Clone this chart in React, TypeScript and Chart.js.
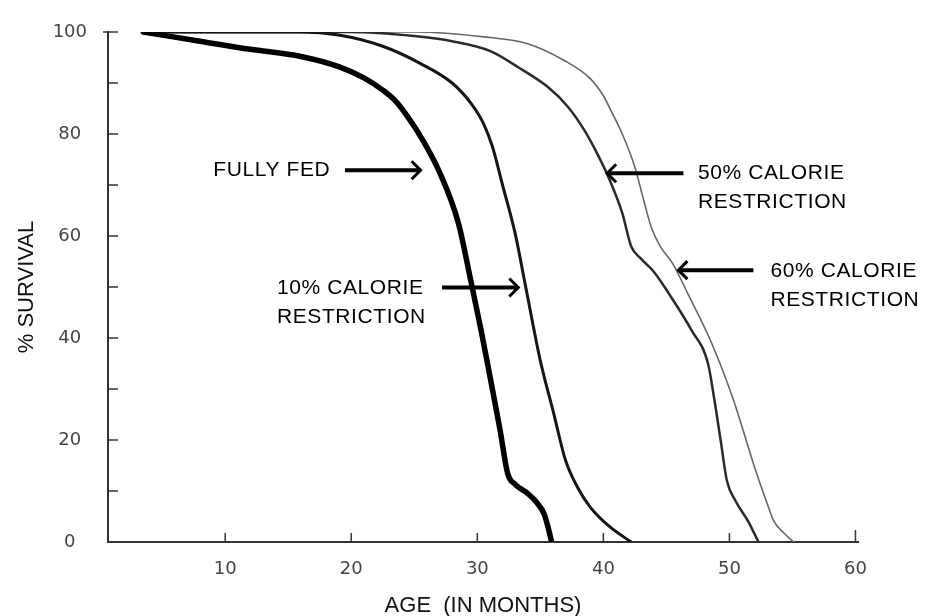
import React, { useEffect, useRef } from "react";
import { Chart, registerables } from "chart.js";

Chart.register(...registerables);

// ---- data (age in months, % survival) ----
const fullyFedAge = [3.5, 8, 12, 16, 19, 21, 22.5, 23.5, 24.3, 25.5, 27, 28.5, 29.5, 30.3, 31, 31.8, 32.4, 33.0, 34.0, 34.7, 35.3, 35.6, 35.9];
const fullyFedSurv = [100, 98.2, 96.6, 95.2, 93.2, 91, 88.6, 86.5, 84, 79.5, 72.5, 62.5, 51, 41.5, 32.5, 22, 13.5, 11.3, 9.5, 7.8, 5.5, 3, 0];

const cr10Age = [3.5, 16, 19, 22.5, 25.5, 28, 29.5, 30.5, 31.2, 32, 33, 33.8, 35, 36, 37, 38, 39, 40.5, 42.2];
const cr10Surv = [100, 100, 99.4, 97.2, 93.8, 90, 86, 82, 77.5, 70, 60.5, 50.5, 35.5, 25.8, 16, 10.5, 6.7, 3, 0];

const cr50Age = [3.5, 20, 25, 28, 31, 33.3, 35.6, 37.2, 38.5, 39.5, 40.5, 41.5, 42.2, 43, 44, 45.2, 47, 48.3, 48.8, 49.3, 49.8, 50.5, 51.5, 52.3];
const cr50Surv = [100, 100, 99.2, 98.2, 96.3, 93, 89.2, 85.3, 80.7, 76.2, 71, 64.5, 58, 55.5, 53, 48.7, 41.5, 35, 28, 20, 12, 8, 4, 0];

const cr60Age = [3.5, 25, 30.7, 34, 36.9, 38.9, 40, 40.6, 41.5, 42.5, 43.2, 43.8, 44.5, 45.5, 46.7, 48.5, 50.3, 51.2, 52, 53, 53.5, 54.3, 55.1];
const cr60Surv = [100, 100, 99, 97.7, 94.4, 91, 87.5, 84.6, 80, 73.5, 67, 61.7, 58, 54.6, 48.7, 39.5, 28, 21, 14.6, 7.5, 4.2, 1.8, 0];

const xTickValues = [10, 20, 30, 40, 50, 60];
const yTickValues = [0, 10, 20, 30, 40, 50, 60, 70, 80, 90, 100];
const yLabelValues = [0, 20, 40, 60, 80, 100];

// annotation labels: text lines, anchor (age, survival), arrow from/to (age) at survival
const noteLines = [["FULLY FED"], ["10% CALORIE", "RESTRICTION"], ["50% CALORIE", "RESTRICTION"], ["60% CALORIE", "RESTRICTION"]];
const noteAge = [9.05, 14.1, 47.5, 53.25];
const noteSurv = [72.9, 49.8, 72.3, 53.0];
const arrowFromAge = [19.5, 27.2, 46.35, 51.9];
const arrowToAge = [25.5, 33.25, 40.3, 45.95];
const arrowSurv = [72.9, 49.9, 72.3, 53.3];

const toPoints = (xs: number[], ys: number[]) => xs.map((x, i) => ({ x, y: ys[i] }));

const tickMarksPlugin = {
  id: "tickMarks",
  afterDraw(chart: any) {
    const ctx = chart.ctx;
    const xs = chart.scales.x;
    const ys = chart.scales.y;
    const { left, bottom } = chart.chartArea;
    ctx.save();
    ctx.strokeStyle = "#333";
    ctx.lineWidth = 1.5;
    ctx.beginPath();
    yTickValues.forEach((v) => {
      const py = ys.getPixelForValue(v);
      ctx.moveTo(left - (v === 100 ? 5 : 0), py);
      ctx.lineTo(left + 10, py);
    });
    xTickValues.forEach((v) => {
      const px = xs.getPixelForValue(v);
      ctx.moveTo(px, bottom);
      ctx.lineTo(px, bottom - (v === 60 ? 12 : 9));
    });
    ctx.stroke();
    ctx.restore();
  },
};

const notesPlugin = {
  id: "notes",
  afterDatasetsDraw(chart: any) {
    const ctx = chart.ctx;
    const xs = chart.scales.x;
    const ys = chart.scales.y;
    ctx.save();
    ctx.fillStyle = "#000";
    ctx.strokeStyle = "#000";
    ctx.font = '21px "Liberation Sans", Arial, sans-serif';
    try { (ctx as any).letterSpacing = "0.6px"; } catch (e) {}
    ctx.textAlign = "left";
    ctx.textBaseline = "middle";
    noteLines.forEach((lines, i) => {
      const tx = xs.getPixelForValue(noteAge[i]);
      const ty = ys.getPixelForValue(noteSurv[i]);
      lines.forEach((t, j) => ctx.fillText(t, tx, ty + j * 29));
      const ax0 = xs.getPixelForValue(arrowFromAge[i]);
      const ax1 = xs.getPixelForValue(arrowToAge[i]);
      const ay = ys.getPixelForValue(arrowSurv[i]);
      const dir = ax1 > ax0 ? 1 : -1;
      ctx.lineWidth = 4;
      ctx.lineCap = "butt";
      ctx.beginPath();
      ctx.moveTo(ax0, ay);
      ctx.lineTo(ax1 - dir * 2, ay);
      ctx.stroke();
      ctx.lineWidth = 3;
      ctx.lineJoin = "miter";
      ctx.beginPath();
      ctx.moveTo(ax1 - dir * 9, ay - 9);
      ctx.lineTo(ax1, ay);
      ctx.lineTo(ax1 - dir * 9, ay + 9);
      ctx.stroke();
    });
    ctx.restore();
  },
};

export default function App() {
  const canvasRef = useRef<HTMLCanvasElement | null>(null);

  useEffect(() => {
    if (!canvasRef.current) return;
    const tickFont = { family: '"DejaVu Sans", sans-serif', size: 18 };
    const chart = new Chart(canvasRef.current, {
      type: "line",
      data: {
        datasets: [
          { label: "Fully fed", data: toPoints(fullyFedAge, fullyFedSurv), borderColor: "#000", borderWidth: 5.5 },
          { label: "10% calorie restriction", data: toPoints(cr10Age, cr10Surv), borderColor: "#151515", borderWidth: 3 },
          { label: "50% calorie restriction", data: toPoints(cr50Age, cr50Surv), borderColor: "#2a2a2a", borderWidth: 2.5 },
          { label: "60% calorie restriction", data: toPoints(cr60Age, cr60Surv), borderColor: "#666", borderWidth: 1.6 },
        ].map((d) => ({ ...d, pointRadius: 0, fill: false, cubicInterpolationMode: "monotone" as const, borderJoinStyle: "round" as const, borderCapStyle: "round" as const })),
      },
      options: {
        responsive: false,
        animation: false,
        layout: { padding: { left: 0, top: 32, right: 89, bottom: 0 } },
        plugins: { legend: { display: false }, tooltip: { enabled: false } },
        scales: {
          x: {
            type: "linear",
            min: 0.7,
            max: 60.2,
            grid: { display: false, drawTicks: false },
            border: { display: true, color: "#333", width: 2 },
            afterBuildTicks: (scale: any) => {
              scale.ticks = xTickValues.map((v) => ({ value: v }));
            },
            afterFit: (scale: any) => {
              scale.height = 74;
            },
            ticks: { font: tickFont, color: "#444", padding: 17, maxRotation: 0, autoSkip: false, callback: (v: any) => String(v) },
            title: {
              display: true,
              text: "AGE  (IN MONTHS)",
              color: "#111",
              font: { family: '"Liberation Sans", Arial, sans-serif', size: 22, lineHeight: 1 },
              padding: { top: 0, bottom: -1 },
            },
          },
          y: {
            type: "linear",
            min: 0,
            max: 100,
            grid: { display: false, drawTicks: false },
            border: { display: true, color: "#333", width: 2 },
            afterBuildTicks: (scale: any) => {
              scale.ticks = yTickValues.map((v) => ({ value: v }));
            },
            afterFit: (scale: any) => {
              scale.width = 108;
            },
            ticks: {
              font: tickFont,
              color: "#444",
              padding: 21,
              crossAlign: "center",
              autoSkip: false,
              callback: (v: any) => (yLabelValues.includes(Number(v)) ? String(v) : ""),
            },
            title: {
              display: true,
              text: "% SURVIVAL",
              color: "#111",
              font: { family: '"Liberation Sans", Arial, sans-serif', size: 22, lineHeight: 1 },
              padding: { top: 16, bottom: 0 },
            },
          },
        },
      },
      plugins: [tickMarksPlugin, notesPlugin],
    });
    return () => chart.destroy();
  }, []);

  return (
    <div style={{ position: "absolute", left: 0, top: 0, width: 947, height: 616, background: "#fff" }}>
      <canvas ref={canvasRef} width={947} height={616} style={{ display: "block" }} />
    </div>
  );
}
